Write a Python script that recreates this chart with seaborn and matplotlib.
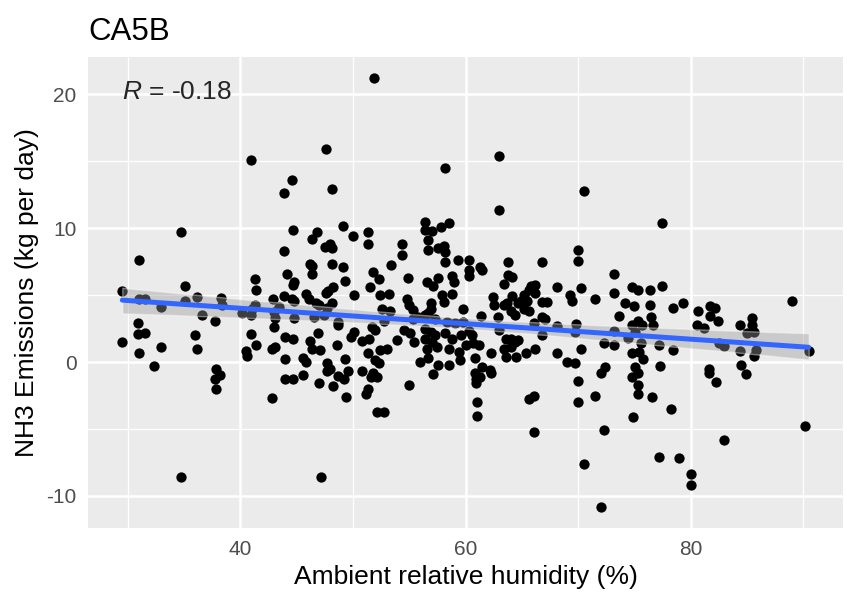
import numpy as np
import pandas as pd
import matplotlib.pyplot as plt
import seaborn as sns
from matplotlib.collections import PolyCollection

# humidity (%) / NH3 emission (kg per day)
humidity = [
    40.9, 51.9, 47.6, 44.6, 43.9, 48.1, 58.2, 63.0, 70.5,
    34.7, 31.0, 29.5, 35.1, 31.0, 31.5, 32.9, 35.1, 36.1, 36.6, 37.7, 38.3, 38.4,
    30.9, 30.9, 31.5, 29.5, 31.0, 32.9, 36.0, 36.1, 32.3, 37.8, 41.3, 41.4, 42.9,
    41.3, 41.0, 40.1, 40.9, 43.0, 43.1, 43.0, 40.9, 41.4, 40.5, 40.6, 42.8, 43.1,
    38.2, 37.7, 37.8, 42.8, 34.7,
    44.0, 44.7, 45.6, 47.0, 47.7, 48.2, 48.7, 49.2, 49.6, 49.4, 50.8, 51.6, 52.1,
    51.8, 51.3, 51.2, 52.1, 52.8, 55.0, 57.1, 47.2,
    60.8, 60.9, 61.3, 60.9, 62.3, 61.0, 61.0, 65.6, 66.1, 66.1, 70.0, 70.0, 71.5,
    72.0, 72.3, 70.5, 72.0, 74.8, 75.3, 75.3, 75.3, 74.9, 76.6, 77.2,
    81.6, 82.3, 84.9, 78.3, 90.2, 83.0, 79.0, 80.0, 80.0,
    77.5, 77.5, 89.0, 78.4, 79.3, 80.7, 81.7, 82.2, 81.7, 82.4, 80.6, 81.2, 84.4,
    85.5, 85.5, 85.6, 85.0, 77.2, 78.4, 82.5, 83.0, 84.4, 85.8, 85.6, 90.5, 77.3,
    81.6, 84.5,
    63.0, 70.0, 70.0, 63.8, 66.8, 60.3, 60.3, 60.3, 61.3, 61.5, 63.8, 64.1, 73.2,
    63.4, 65.8, 66.2, 68.1, 65.6, 66.2, 65.2, 65.5, 73.2, 74.8, 75.3, 76.4, 62.4,
    62.5, 64.1, 64.9, 64.7, 66.8, 67.2, 69.3, 69.5, 70.3, 71.5, 63.4, 63.7, 64.0,
    64.4, 65.2, 65.6, 74.2, 75.0, 76.4, 61.4, 62.9, 66.8, 67.1, 73.6, 76.5, 66.1,
    68.1, 69.8, 75.3, 75.7, 74.8, 76.7, 60.3, 63.0, 66.8, 69.7, 73.2, 74.4, 75.1,
    75.6, 60.6, 60.7, 61.2, 63.6, 64.0, 64.7, 63.4, 64.0, 64.4, 72.3, 73.2, 70.3,
    62.3, 65.4, 66.2, 68.1, 60.8, 63.6, 64.5, 69.0, 69.7, 74.8, 75.4, 75.8, 72.4,
    75.1, 61.5, 62.2,
    44.7, 46.8, 46.4, 49.1, 50.0, 51.3, 51.3, 47.5, 48.0, 48.1, 43.9, 54.4, 54.4,
    56.4, 56.4, 57.0, 57.8, 58.5, 56.7, 56.7, 57.6, 58.1, 58.2, 58.2, 59.3, 46.2,
    46.4, 46.4, 48.1, 49.1, 53.4, 44.1, 44.8, 44.7, 49.3, 51.8, 52.3, 51.5, 54.9,
    56.6, 57.1, 57.6, 58.8, 59.0, 48.2, 47.8, 47.6, 50.1, 52.4, 53.2, 43.9, 44.6,
    44.8, 45.8, 46.1, 46.7, 47.0, 48.1, 47.7, 54.8, 55.0, 55.3, 56.9, 56.9, 56.7,
    57.9, 58.8, 58.1, 59.8, 52.6, 53.3, 43.4, 44.8, 46.5, 47.4, 48.7, 48.7, 51.7,
    52.0, 52.8, 55.3, 55.8, 56.4, 57.3, 58.4, 59.1, 59.8, 44.0, 44.7, 46.2, 46.9,
    46.4, 47.1, 48.6, 49.8, 50.1, 50.8, 51.4, 51.3, 52.4, 53.0, 53.9, 54.5, 55.1,
    55.4, 56.4, 56.9, 57.3, 56.4, 57.0, 56.6, 57.5, 58.2, 58.8, 59.6, 58.5, 59.4,
    60.0, 44.0, 45.6, 45.8, 47.7, 48.0, 49.3, 52.0, 52.3, 56.0, 56.7, 57.6, 58.5,
    59.5,
]
nh3 = [
    15.1, 21.2, 15.9, 13.6, 12.6, 12.9, 14.5, 15.4, 12.8,
    9.7, 7.6, 5.3, 5.7, 4.7, 4.7, 4.1, 4.6, 4.9, 3.5, 3.1, 4.8, 4.3,
    2.9, 2.1, 2.2, 1.5, 0.65, 1.15, 2.0, 1.0, -0.3, -0.5, 6.2, 5.4, 4.75,
    4.25, 3.95, 3.7, 3.5, 3.75, 3.3, 2.6, 2.1, 1.3, 0.8, 0.45, 1.0, 1.15,
    -1.0, -1.3, -2.0, -2.7, -8.6,
    -1.3, -1.3, -0.95, -1.6, -0.7, -1.8, -1.05, -1.3, -0.7, -2.6, -0.7, -1.1, -1.1,
    -0.85, -2.0, -2.4, -3.75, -3.7, -1.7, -0.9, -8.6,
    -0.8, -1.3, -1.15, -1.6, -0.85, -3.0, -4.0, -2.75, -2.55, -5.25, -1.4, -3.0, -2.5,
    -0.8, -5.1, -7.6, -10.8, -1.15, -0.8, -1.7, -2.4, -4.1, -2.6, -7.1,
    -0.8, -1.5, -0.9, -3.5, -4.75, -5.8, -7.2, -8.4, -9.2,
    10.4, 5.7, 4.6, 4.05, 4.4, 3.8, 4.2, 4.05, 3.45, 3.1, 2.75, 2.55, 2.75,
    3.3, 2.8, 2.25, 2.15, 1.3, 0.9, 1.4, 1.2, 0.85, 0.9, 0.45, 0.85, -0.3,
    -0.5, -0.2,
    11.4, 8.35, 7.55, 7.45, 7.45, 7.6, 6.9, 6.4, 7.1, 6.9, 6.5, 6.35, 6.6,
    5.8, 5.65, 5.75, 5.6, 5.35, 5.2, 5.05, 4.6, 5.2, 5.6, 5.35, 5.4, 4.9,
    4.3, 4.95, 4.6, 4.4, 4.5, 4.5, 5.0, 4.6, 5.5, 4.75, 4.25, 4.4, 3.8,
    3.5, 4.0, 3.8, 4.45, 4.2, 4.3, 3.45, 3.35, 3.4, 3.25, 3.45, 3.4, 2.95,
    2.7, 2.85, 3.05, 2.8, 2.75, 2.8, 2.3, 2.4, 2.05, 2.25, 2.3, 1.8, 2.25,
    1.45, 2.0, 1.4, 1.25, 1.75, 1.75, 1.65, 1.0, 1.15, 1.5, 1.45, 1.3, 1.0,
    0.65, 0.7, 0.95, 0.7, 0.3, 0.4, 0.4, 0.0, -0.1, 0.65, 0.75, 0.2, -0.35,
    -0.35, -0.35, -0.6,
    9.9, 9.7, 9.2, 10.2, 9.4, 9.7, 8.85, 8.6, 8.85, 8.5, 8.3, 8.8, 8.0,
    10.5, 9.85, 9.8, 10.1, 10.4, 9.1, 8.35, 8.5, 8.7, 8.2, 7.5, 7.6, 7.35,
    7.2, 6.6, 7.3, 7.1, 7.25, 6.6, 5.95, 5.75, 6.05, 6.75, 6.2, 5.6, 6.3,
    6.0, 5.7, 6.3, 6.45, 5.95, 5.6, 5.3, 5.2, 5.05, 5.0, 5.1, 4.95, 4.7,
    4.6, 5.1, 4.7, 4.4, 4.3, 4.45, 4.05, 4.7, 4.25, 3.9, 4.4, 4.0, 3.7,
    5.0, 5.1, 4.5, 4.0, 4.0, 3.8, 4.1, 3.3, 3.4, 3.5, 3.0, 2.75, 2.65,
    2.4, 3.1, 3.25, 3.4, 3.5, 3.25, 3.0, 2.9, 3.0, 1.9, 1.75, 1.55, 2.15,
    1.0, 0.9, 1.3, 1.9, 2.25, 1.55, 1.7, 0.65, 0.9, 1.0, 1.65, 2.4, 2.15,
    1.5, 2.5, 2.25, 2.0, 1.75, 1.5, 1.0, 1.15, 2.15, 1.75, 2.0, 1.0, 0.75,
    1.25, 0.2, 0.3, 0.0, -0.1, -0.5, 0.2, 0.15, -0.1, 0.0, 0.3, -0.2, -0.2,
    0.15,
]
panel_title = "CA5B"
r_label = "$R$ = -0.18"

df = pd.DataFrame({"humidity": humidity, "nh3": nh3})

sns.set_style("darkgrid", {"axes.facecolor": "#EBEBEB", "grid.color": "white"})
plt.rcParams["font.family"] = ["Liberation Sans", "DejaVu Sans"]
plt.rcParams["mathtext.fontset"] = "custom"
plt.rcParams["mathtext.rm"] = "Liberation Sans"
plt.rcParams["mathtext.it"] = "Liberation Sans:italic"
plt.rcParams["axes.unicode_minus"] = False

fig = plt.figure(figsize=(8.47, 5.93), dpi=100)
ax = fig.add_axes([88 / 847, 65 / 593, 755 / 847, 471 / 593])

sns.scatterplot(data=df, x="humidity", y="nh3", color="black", s=55,
                linewidth=0, ax=ax, zorder=2)
sns.regplot(data=df, x="humidity", y="nh3", scatter=False, ci=95, seed=3,
            color="#3366FF", line_kws={"lw": 3.6, "zorder": 4}, ax=ax)
# ggplot style grey confidence band
for c in ax.collections:
    if isinstance(c, PolyCollection):
        c.set_facecolor("#999999")
        c.set_alpha(0.4)
        c.set_zorder(3)

xr = max(humidity) - min(humidity)
yr = max(nh3) - min(nh3)
ax.set_xlim(min(humidity) - 0.05 * xr, max(humidity) + 0.05 * xr)
ax.set_ylim(min(nh3) - 0.05 * yr, max(nh3) + 0.05 * yr)

ax.set_xticks([40, 60, 80])
ax.set_xticks([30, 50, 70, 90], minor=True)
ax.set_yticks([-10, 0, 10, 20])
ax.set_yticks([-5, 5, 15], minor=True)
ax.grid(which="major", color="white", lw=1.85)
ax.grid(which="minor", color="white", lw=0.9)
ax.tick_params(which="major", length=4.8, width=1.4, color="#333333",
               labelsize=15, labelcolor="#4D4D4D", pad=3.5)
ax.tick_params(which="minor", length=0)
for s in ax.spines.values():
    s.set_visible(False)

ax.set_xlabel("Ambient relative humidity (%)", fontsize=19, color="black", labelpad=5)
ax.set_ylabel("NH3 Emissions (kg per day)", fontsize=19, color="black", labelpad=5)
ax.set_title(panel_title, loc="left", fontsize=22.5, color="black", pad=12)

ax.text(min(humidity), 20.15, r_label, fontsize=19, ha="left", va="center", zorder=5)

plt.savefig("out.png", dpi=100)
